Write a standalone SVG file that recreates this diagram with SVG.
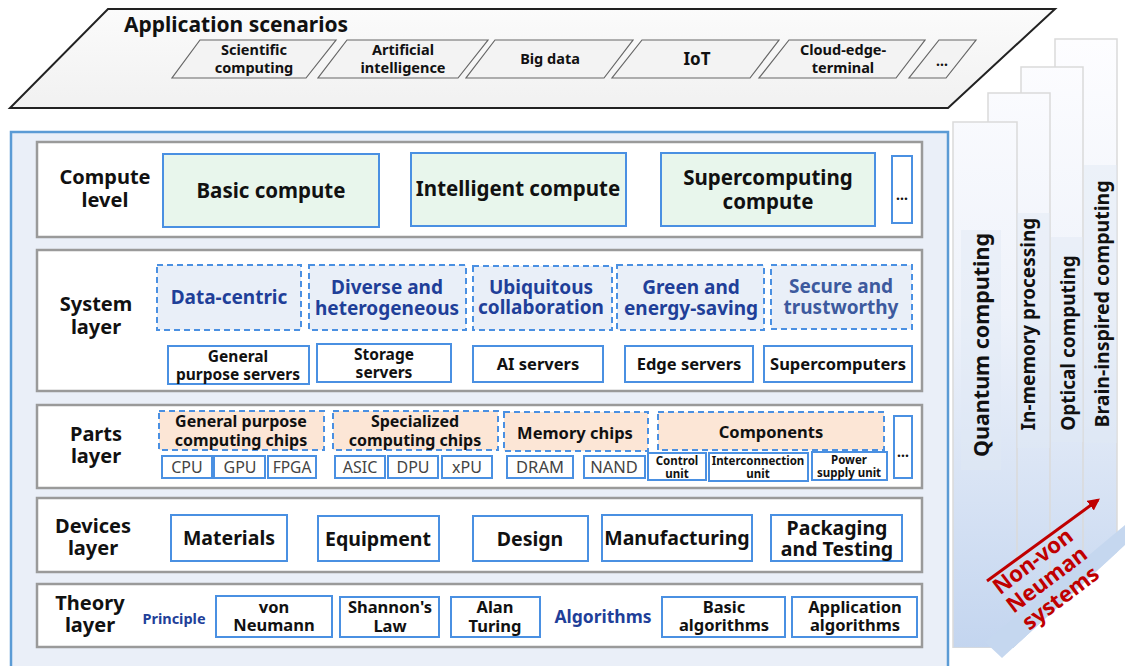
<svg xmlns="http://www.w3.org/2000/svg" width="1125" height="666" viewBox="0 0 1125 666">
  <defs>
    <style>
      .t { font-family: "Noto Sans", "Open Sans", "Liberation Sans", sans-serif; font-weight: 700; fill: #111; text-anchor: middle; }
      .panel { fill: #fff; stroke: #9a9a9a; stroke-width: 2.5; }
      .box { fill: #fff; stroke: #4a90e2; stroke-width: 2; }
      .green { fill: #e8f6ec; stroke: #4a90e2; stroke-width: 2; }
      .dash { fill: #e9eff8; stroke: #4a90e2; stroke-width: 2; stroke-dasharray: 6 4; }
      .peach { fill: #fce6d6; stroke: #4a90e2; stroke-width: 2; stroke-dasharray: 6 4; }
      .chip { fill: #fff; stroke: #4a90e2; stroke-width: 2; }
      .blue { fill: #1f3f99; }
      .gray { fill: #444; font-weight: 400; }
      .red { fill: #c00000; }
      .scen { fill: #f3f3f3; stroke: #666; stroke-width: 1.2; }
      .col { fill: url(#colGrad); stroke: #dadada; stroke-width: 1.5; }
      .colLbl { fill: #dfe8f5; opacity: 0.45; }
    </style>
    <linearGradient id="colGrad" gradientUnits="userSpaceOnUse" x1="0" y1="40" x2="0" y2="650">
      <stop offset="0" stop-color="#fdfdff"/>
      <stop offset="0.45" stop-color="#eef2fa"/>
      <stop offset="1" stop-color="#c3d5ef"/>
    </linearGradient>
    <linearGradient id="appGrad" x1="0" y1="0" x2="0" y2="1">
      <stop offset="0" stop-color="#fbfbfb"/>
      <stop offset="1" stop-color="#f1f1f1"/>
    </linearGradient>
    <clipPath id="colClip">
      <polygon points="940,0 1125,0 1125,545 1013,648 940,648"/>
    </clipPath>
    <marker id="redHead" viewBox="0 0 10 10" refX="8" refY="5" markerWidth="4" markerHeight="4" orient="auto">
      <path d="M0,0 L10,5 L0,10 z" fill="#c00000"/>
    </marker>
  </defs>

  <!-- Non-von Neumann columns -->
  <g id="non-von-neumann">
    <g clip-path="url(#colClip)">
      <rect class="col" x="1055" y="39" width="62" height="640"/>
      <rect class="col" x="1021" y="67" width="62" height="640"/>
      <rect class="col" x="988" y="93" width="62" height="640"/>
      <rect class="col" x="953" y="122" width="64" height="526"/>
    </g>
    <polygon points="985,642 1002,658 1125,545 1125,525" fill="#c5d7ef"/>
    <rect class="colLbl" x="961" y="230" width="40" height="240"/>
    <rect class="colLbl" x="1017" y="213" width="33" height="235"/>
    <rect class="colLbl" x="1051" y="237" width="32" height="205"/>
    <rect class="colLbl" x="1084" y="165" width="33" height="278"/>
    <text class="t" font-size="21.5" transform="translate(989,345) rotate(-90)">Quantum computing</text>
    <text class="t" font-size="19" transform="translate(1035,324) rotate(-90)">In-memory processing</text>
    <text class="t" font-size="19" transform="translate(1075,343) rotate(-90)">Optical computing</text>
    <text class="t" font-size="19.5" transform="translate(1109,304) rotate(-90)">Brain-inspired computing</text>
    <line x1="987" y1="581" x2="1098" y2="500" stroke="#c00000" stroke-width="3" marker-end="url(#redHead)"/>
    <g transform="translate(1047,580) rotate(-37)">
      <text class="t red" font-size="22" x="0" y="-16">Non-von</text>
      <text class="t red" font-size="22" x="0" y="7">Neuman</text>
      <text class="t red" font-size="22" x="0" y="30">systems</text>
    </g>
  </g>

  <!-- Application scenarios -->
  <g id="application-scenarios">
    <polygon points="108,9 1055,9 948,108 10,108" fill="url(#appGrad)" stroke="#222" stroke-width="2"/>
    <text class="t" font-size="21" x="124" y="32" style="text-anchor:start">Application scenarios</text>
    <g id="scen-scientific">
      <polygon class="scen" points="200,40 336,40 306,78 172,78"/>
      <text class="t" font-size="14.5" x="254" y="55">Scientific</text>
      <text class="t" font-size="14.5" x="254" y="73">computing</text>
    </g>
    <g id="scen-ai">
      <polygon class="scen" points="347,40 488,40 458,78 318,78"/>
      <text class="t" font-size="14.5" x="403" y="55">Artificial</text>
      <text class="t" font-size="14.5" x="403" y="73">intelligence</text>
    </g>
    <g id="scen-bigdata">
      <polygon class="scen" points="495,40 633,40 604,78 466,78"/>
      <text class="t" font-size="14.5" x="550" y="64">Big data</text>
    </g>
    <g id="scen-iot">
      <polygon class="scen" points="642,40 779,40 750,78 612,78"/>
      <text class="t" font-size="17" x="697" y="65">IoT</text>
    </g>
    <g id="scen-cloud">
      <polygon class="scen" points="789,40 925,40 896,78 759,78"/>
      <text class="t" font-size="14.5" x="843" y="55">Cloud-edge-</text>
      <text class="t" font-size="14.5" x="843" y="73">terminal</text>
    </g>
    <g id="scen-more">
      <polygon class="scen" points="939,40 976,40 946,78 909,78"/>
      <text class="t" font-size="14" x="942" y="66">…</text>
    </g>
  </g>

  <!-- Main stack background -->
  <rect x="11" y="132" width="937" height="540" fill="#eaeff8" stroke="#5b9bd5" stroke-width="2.5"/>

  <!-- Compute level -->
  <g id="compute-level">
    <rect class="panel" x="37" y="142" width="885" height="95"/>
    <text class="t" font-size="20" x="105" y="184">Compute</text>
    <text class="t" font-size="20" x="105" y="207">level</text>
    <g id="basic-compute">
      <rect class="green" x="163" y="154" width="216" height="73"/>
      <text class="t" font-size="20.5" x="271" y="198">Basic compute</text>
    </g>
    <g id="intelligent-compute">
      <rect class="green" x="411" y="153" width="215" height="73"/>
      <text class="t" font-size="20.5" x="518" y="196">Intelligent compute</text>
    </g>
    <g id="supercomputing-compute">
      <rect class="green" x="661" y="153" width="214" height="73"/>
      <text class="t" font-size="20.5" x="768" y="185">Supercomputing</text>
      <text class="t" font-size="20.5" x="768" y="209">compute</text>
    </g>
    <g id="compute-more">
      <rect class="box" x="892" y="156" width="20" height="67"/>
      <text class="t" font-size="14" x="902" y="200">…</text>
    </g>
  </g>

  <!-- System layer -->
  <g id="system-layer">
    <rect class="panel" x="37" y="250" width="885" height="141"/>
    <text class="t" font-size="20" x="96" y="311">System</text>
    <text class="t" font-size="20" x="96" y="334">layer</text>
    <g id="data-centric">
      <rect class="dash" x="157" y="265" width="144" height="65"/>
      <text class="t blue" font-size="19" x="229" y="304">Data-centric</text>
    </g>
    <g id="diverse">
      <rect class="dash" x="309" y="265" width="157" height="65"/>
      <text class="t blue" font-size="19" x="387" y="294">Diverse and</text>
      <text class="t blue" font-size="19" x="387" y="315">heterogeneous</text>
    </g>
    <g id="ubiquitous">
      <rect class="dash" x="473" y="266" width="139" height="64"/>
      <text class="t blue" font-size="19" x="541" y="294">Ubiquitous</text>
      <text class="t blue" font-size="19" x="541" y="314">collaboration</text>
    </g>
    <g id="green">
      <rect class="dash" x="617" y="265" width="147" height="65"/>
      <text class="t blue" font-size="19" x="691" y="294">Green and</text>
      <text class="t blue" font-size="19" x="691" y="315">energy-saving</text>
    </g>
    <g id="secure">
      <rect class="dash" x="771" y="265" width="141" height="64"/>
      <text class="t" font-size="19" x="841" y="293" style="fill:#3d5a9e">Secure and</text>
      <text class="t" font-size="19" x="841" y="314" style="fill:#3d5a9e">trustworthy</text>
    </g>
    <g id="gp-servers">
      <rect class="box" x="168" y="346" width="141" height="38"/>
      <text class="t" font-size="15.5" x="238" y="362">General</text>
      <text class="t" font-size="15.5" x="238" y="380">purpose servers</text>
    </g>
    <g id="storage-servers">
      <rect class="box" x="317" y="344" width="134" height="38"/>
      <text class="t" font-size="15.5" x="384" y="360">Storage</text>
      <text class="t" font-size="15.5" x="384" y="378">servers</text>
    </g>
    <g id="ai-servers">
      <rect class="box" x="473" y="346" width="130" height="36"/>
      <text class="t" font-size="16.5" x="538" y="370">AI servers</text>
    </g>
    <g id="edge-servers">
      <rect class="box" x="625" y="346" width="128" height="36"/>
      <text class="t" font-size="16.5" x="689" y="370">Edge servers</text>
    </g>
    <g id="supercomputers">
      <rect class="box" x="764" y="346" width="148" height="36"/>
      <text class="t" font-size="16.5" x="838" y="370">Supercomputers</text>
    </g>
  </g>

  <!-- Parts layer -->
  <g id="parts-layer">
    <rect class="panel" x="37" y="405" width="885" height="83"/>
    <text class="t" font-size="20" x="96" y="441">Parts</text>
    <text class="t" font-size="20" x="96" y="463">layer</text>
    <g id="gp-chips">
      <rect class="peach" x="159" y="411" width="165" height="39"/>
      <text class="t" font-size="16" x="241" y="427">General purpose</text>
      <text class="t" font-size="16" x="241" y="446">computing chips</text>
    </g>
    <g id="special-chips">
      <rect class="peach" x="333" y="411" width="165" height="39"/>
      <text class="t" font-size="16" x="415" y="427">Specialized</text>
      <text class="t" font-size="16" x="415" y="446">computing chips</text>
    </g>
    <g id="memory-chips">
      <rect class="peach" x="504" y="412" width="144" height="39"/>
      <text class="t" font-size="16.5" x="575" y="439">Memory chips</text>
    </g>
    <g id="components">
      <rect class="peach" x="658" y="412" width="226" height="38"/>
      <text class="t" font-size="16.5" x="771" y="438">Components</text>
    </g>
    <g id="cpu"><rect class="chip" x="162" y="456" width="50" height="22"/><text class="t gray" font-size="16" x="187" y="473">CPU</text></g>
    <g id="gpu"><rect class="chip" x="214" y="456" width="51" height="22"/><text class="t gray" font-size="16" x="240" y="473">GPU</text></g>
    <g id="fpga"><rect class="chip" x="268" y="456" width="48" height="22"/><text class="t gray" font-size="15.5" x="292" y="473">FPGA</text></g>
    <g id="asic"><rect class="chip" x="335" y="456" width="50" height="22"/><text class="t gray" font-size="16" x="360" y="473">ASIC</text></g>
    <g id="dpu"><rect class="chip" x="388" y="456" width="50" height="22"/><text class="t gray" font-size="16" x="413" y="473">DPU</text></g>
    <g id="xpu"><rect class="chip" x="442" y="456" width="50" height="22"/><text class="t gray" font-size="16" x="467" y="473">xPU</text></g>
    <g id="dram"><rect class="chip" x="507" y="456" width="66" height="22"/><text class="t gray" font-size="16.5" x="540" y="473">DRAM</text></g>
    <g id="nand"><rect class="chip" x="584" y="456" width="61" height="22"/><text class="t gray" font-size="16.5" x="614" y="473">NAND</text></g>
    <g id="control-unit">
      <rect class="chip" x="648" y="453" width="58" height="27"/>
      <text class="t" font-size="11.5" x="677" y="465">Control</text>
      <text class="t" font-size="11.5" x="677" y="478">unit</text>
    </g>
    <g id="interconnection-unit">
      <rect class="chip" x="709" y="453" width="99" height="28"/>
      <text class="t" font-size="11.5" x="758" y="465">Interconnection</text>
      <text class="t" font-size="11.5" x="758" y="478">unit</text>
    </g>
    <g id="power-unit">
      <rect class="chip" x="812" y="452" width="75" height="28"/>
      <text class="t" font-size="11.5" x="849" y="464">Power</text>
      <text class="t" font-size="11.5" x="849" y="477">supply unit</text>
    </g>
    <g id="parts-more">
      <rect class="box" x="894" y="416" width="18" height="62"/>
      <text class="t" font-size="14" x="903" y="457">…</text>
    </g>
  </g>

  <!-- Devices layer -->
  <g id="devices-layer">
    <rect class="panel" x="37" y="498" width="885" height="74"/>
    <text class="t" font-size="20" x="93" y="533">Devices</text>
    <text class="t" font-size="20" x="93" y="555">layer</text>
    <g id="materials"><rect class="box" x="171" y="515" width="116" height="46"/><text class="t" font-size="19.5" x="229" y="545">Materials</text></g>
    <g id="equipment"><rect class="box" x="318" y="516" width="121" height="45"/><text class="t" font-size="19.5" x="378" y="546">Equipment</text></g>
    <g id="design"><rect class="box" x="473" y="516" width="115" height="45"/><text class="t" font-size="19.5" x="530" y="546">Design</text></g>
    <g id="manufacturing"><rect class="box" x="602" y="515" width="150" height="46"/><text class="t" font-size="19.5" x="677" y="545">Manufacturing</text></g>
    <g id="packaging">
      <rect class="box" x="771" y="515" width="131" height="46"/>
      <text class="t" font-size="19.5" x="837" y="535">Packaging</text>
      <text class="t" font-size="19.5" x="837" y="556">and Testing</text>
    </g>
  </g>

  <!-- Theory layer -->
  <g id="theory-layer">
    <rect class="panel" x="37" y="584" width="885" height="63"/>
    <text class="t" font-size="20" x="90" y="610">Theory</text>
    <text class="t" font-size="20" x="90" y="632">layer</text>
    <text class="t blue" font-size="14.5" x="174" y="624">Principle</text>
    <g id="von-neumann">
      <rect class="box" x="216" y="596" width="116" height="41"/>
      <text class="t" font-size="16.5" x="274" y="613">von</text>
      <text class="t" font-size="16.5" x="274" y="631">Neumann</text>
    </g>
    <g id="shannon">
      <rect class="box" x="340" y="597" width="99" height="40"/>
      <text class="t" font-size="16.5" x="390" y="613">Shannon's</text>
      <text class="t" font-size="16.5" x="390" y="632">Law</text>
    </g>
    <g id="turing">
      <rect class="box" x="451" y="597" width="89" height="40"/>
      <text class="t" font-size="16.5" x="495" y="613">Alan</text>
      <text class="t" font-size="16.5" x="495" y="632">Turing</text>
    </g>
    <text class="t blue" font-size="17.5" x="603" y="623">Algorithms</text>
    <g id="basic-algorithms">
      <rect class="box" x="662" y="597" width="123" height="40"/>
      <text class="t" font-size="16.5" x="724" y="613">Basic</text>
      <text class="t" font-size="16.5" x="724" y="631">algorithms</text>
    </g>
    <g id="application-algorithms">
      <rect class="box" x="792" y="597" width="125" height="40"/>
      <text class="t" font-size="16.5" x="855" y="613">Application</text>
      <text class="t" font-size="16.5" x="855" y="631">algorithms</text>
    </g>
  </g>
</svg>
